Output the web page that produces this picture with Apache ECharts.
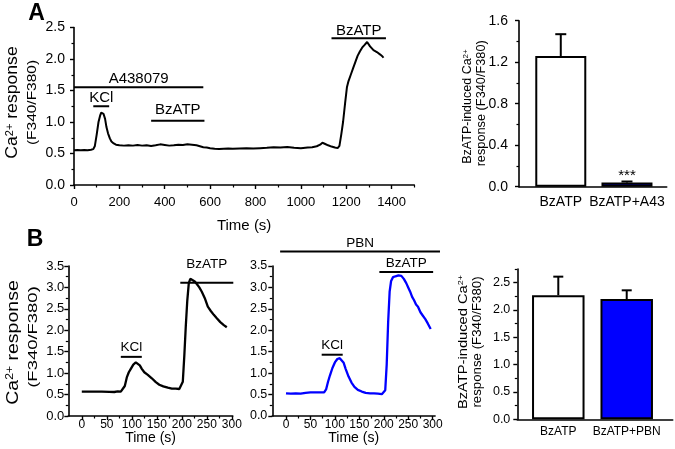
<!DOCTYPE html>
<html><head><meta charset="utf-8">
<script src="https://cdn.jsdelivr.net/npm/echarts@6/dist/echarts.min.js"></script>
<style>html,body{margin:0;padding:0;background:#fff}#c{width:675px;height:449px}</style>
</head><body><div id="c"></div>
<script>
// ================= DATA =================
// Panel A trace: time (s) and Ca2+ ratio
const traceA_t = [0,15,30,45,60,75,85,92,100,108,115,120,125,130,137,143,150,158,165,175,185,200,220,240,260,280,300,320,340,360,380,400,420,440,460,480,500,520,540,555,570,585,600,620,640,660,680,700,730,760,790,820,850,880,910,940,970,1000,1030,1050,1070,1085,1095,1105,1120,1135,1150,1162,1170,1178,1186,1195,1203,1210,1220,1230,1240,1250,1260,1270,1280,1287,1292,1298,1305,1312,1320,1328,1335,1342,1350,1356,1360,1364];
const traceA_y = [0.55,0.555,0.55,0.555,0.55,0.56,0.57,0.62,0.8,1.0,1.1,1.15,1.165,1.13,1.05,0.92,0.82,0.74,0.69,0.66,0.64,0.63,0.625,0.63,0.625,0.635,0.625,0.63,0.62,0.63,0.645,0.635,0.625,0.63,0.64,0.635,0.645,0.64,0.63,0.615,0.6,0.595,0.585,0.575,0.57,0.575,0.58,0.575,0.58,0.585,0.58,0.585,0.59,0.6,0.595,0.605,0.59,0.585,0.595,0.6,0.615,0.64,0.67,0.655,0.63,0.61,0.595,0.585,0.62,0.8,1.0,1.3,1.55,1.65,1.75,1.85,1.95,2.05,2.12,2.18,2.22,2.25,2.27,2.24,2.2,2.18,2.14,2.15,2.11,2.1,2.07,2.09,2.04,2.02];
// Panel B left trace (control)
const traceB1_t = [0,20,40,55,65,72,78,82,86,90,94,98,103,108,112,116,120,125,132,140,148,155,163,172,180,188,195,199,202,205,208,211,214,217,221,226,230,235,240,246,252,258,264,270,277,284,290];
const traceB1_y = [0.57,0.57,0.57,0.565,0.56,0.575,0.57,0.6,0.7,0.9,1.02,1.1,1.2,1.25,1.24,1.18,1.1,1.02,0.96,0.88,0.79,0.73,0.69,0.66,0.64,0.64,0.63,0.63,0.8,1.4,2.1,2.7,3.1,3.2,3.19,3.14,3.08,3.0,2.9,2.75,2.55,2.45,2.36,2.28,2.19,2.12,2.07];
// Panel B middle trace (PBN)
const traceB2_t = [0,10,20,30,40,50,60,70,78,82,86,90,95,100,105,110,114,118,122,128,134,140,147,155,163,172,180,188,196,200,203,206,209,212,215,219,224,230,236,241,246,250,254,258,262,266,270,275,280,285,290,296];
const traceB2_y = [0.53,0.52,0.53,0.52,0.54,0.55,0.55,0.55,0.55,0.62,0.8,0.95,1.12,1.25,1.33,1.35,1.33,1.24,1.1,0.92,0.78,0.68,0.61,0.57,0.54,0.53,0.53,0.52,0.51,0.52,0.6,1.2,2.2,2.9,3.15,3.24,3.26,3.28,3.27,3.2,3.1,3.0,2.9,2.78,2.7,2.6,2.55,2.42,2.34,2.26,2.16,2.03];
// Bar charts
const barCatsA = ['BzATP', 'BzATP+A43'];
const barMeanA = [1.26, 0.04];
const barErrA  = [0.21, 0.01];
const barSigA  = ['', '***'];
const barCatsB = ['BzATP', 'BzATP+PBN'];
const barMeanB = [2.27, 2.20];
const barErrB  = [0.34, 0.16];
const barSigB  = ['', ''];
// Drug application periods (s) and the response level they are drawn at
const annoA_label = ['A438079', 'KCl', 'BzATP', 'BzATP'];
const annoA_start = [0, 85, 340, 1135];
const annoA_end   = [570, 155, 575, 1375];
const annoA_level = [1.55, 1.25, 1.02, 2.33];
const annoB1_label = ['KCl', 'BzATP'];
const annoB1_start = [78, 197];
const annoB1_end   = [120, 303];
const annoB1_level = [1.38, 3.11];
const annoB2_label = ['PBN', 'KCl', 'BzATP'];
const annoB2_start = [-12, 73, 191];
const annoB2_end   = [315, 116, 301];
const annoB2_level = [3.84, 1.43, 3.36];
// Tick values
const ticksA_x = [0,200,400,600,800,1000,1200,1400];
const minorA_x = [100,300,500,700,900,1100,1300,1500];
const ticksA_y = [0,0.5,1.0,1.5,2.0,2.5];
const minorA_y = [0.25,0.75,1.25,1.75,2.25];
const ticksAb_y = [0,0.4,0.8,1.2,1.6];
const minorAb_y = [0.2,0.6,1.0,1.4];
const ticksB_x = [0,50,100,150,200,250,300];
const minorB_x = [25,75,125,175,225,275];
const ticksB_y = [0,0.5,1.0,1.5,2.0,2.5,3.0,3.5];
const minorB_y = [0.25,0.75,1.25,1.75,2.25,2.75,3.25];
const ticksBb_y = [0,0.5,1.0,1.5,2.0,2.5];
const minorBb_y = [0.25,0.75,1.25,1.75,2.25,2.75];

// ================= STYLE / LAYOUT =================
const FONT = "'Liberation Sans', Arial, Helvetica, sans-serif";
const BLUE = '#0000ff';
const fillsA = ['#ffffff', BLUE];
const fillsB = ['#ffffff', BLUE];
const annoGapA = [8, 8.5, 10.5, 7.5];
const annoGapB1 = [9.5, 18];
const annoGapB2 = [8, 9.5, 9];

const zip = (a, b) => a.map((v, i) => [v, b[i]]);
const f1 = v => v.toFixed(1);

const xAxes = [], yAxes = [];
function addAxes(list, dim, gi, min, max, majors, minors, st) {
  const pos = dim === 'x' ? 'bottom' : 'left';
  const main = {
    type: 'value', gridIndex: gi, position: pos, min: min, max: max,
    axisLine: {show: true, onZero: false, lineStyle: {color: '#000', width: 1.6}},
    axisTick: {show: st.ticks !== false, customValues: majors, length: 4, lineStyle: {color: '#000', width: 1.4}},
    axisLabel: {show: true, customValues: st.labels || majors, margin: st.margin, fontSize: st.fontSize,
      color: '#000', fontFamily: FONT, formatter: st.fmt || (v => String(v))},
    splitLine: {show: false}, splitArea: {show: false}
  };
  if (st.name) {
    main.name = st.name; main.nameLocation = 'middle'; main.nameGap = st.nameGap;
    main.nameTextStyle = {fontSize: st.nameSize, color: '#000', fontFamily: FONT};
  }
  const idx = list.length;
  list.push(main);
  if (minors) {
    list.push({
      type: 'value', gridIndex: gi, position: pos, min: min, max: max,
      axisLine: {show: false, onZero: false},
      axisTick: {show: true, customValues: minors, length: 2.5, lineStyle: {color: '#000', width: 1.2}},
      axisLabel: {show: false}, splitLine: {show: false}
    });
  }
  return idx;
}

// grids: 0 A trace, 1 A bar, 2 B left, 3 B middle, 4 B bar
const grids = [
  {left: 74, top: 27.5, width: 340.3, height: 157.5},
  {left: 519, top: 20.7, width: 147.7, height: 166},
  {left: 68.3, top: 266, width: 164.5, height: 150},
  {left: 272.3, top: 266, width: 162.8, height: 150},
  {left: 517.3, top: 269, width: 155.4, height: 150.3}
].map(g => Object.assign({containLabel: false, outerBoundsMode: 'none', show: false}, g));

const xA = addAxes(xAxes, 'x', 0, 0, 1500, ticksA_x, minorA_x, {margin: 10.5, fontSize: 13, name: 'Time (s)', nameGap: 33, nameSize: 15});
const yA = addAxes(yAxes, 'y', 0, 0, 2.5, ticksA_y, minorA_y, {margin: 9, fontSize: 14, fmt: f1});
const xAb = addAxes(xAxes, 'x', 1, -0.631, 1.6, [0, 1], null, {ticks: false, margin: 8.5, fontSize: 14, fmt: v => barCatsA[Math.round(v)]});
const yAb = addAxes(yAxes, 'y', 1, 0, 1.6, ticksAb_y, minorAb_y, {margin: 11, fontSize: 14, fmt: f1});
const xB1 = addAxes(xAxes, 'x', 2, -27, 302, ticksB_x, minorB_x, {margin: 2.5, fontSize: 12, name: 'Time (s)', nameGap: 8, nameSize: 14});
const yB1 = addAxes(yAxes, 'y', 2, 0, 3.5, ticksB_y, minorB_y, {margin: 4, fontSize: 13, fmt: f1});
const xB2 = addAxes(xAxes, 'x', 3, -28, 305, ticksB_x, minorB_x, {margin: 2.5, fontSize: 12, name: 'Time (s)', nameGap: 8, nameSize: 14});
const yB2 = addAxes(yAxes, 'y', 3, 0, 3.5, ticksB_y, minorB_y, {margin: 5, fontSize: 12.5, fmt: f1});
const xBb = addAxes(xAxes, 'x', 4, -0.599, 1.672, [0, 1], null, {ticks: false, margin: 6.5, fontSize: 12, fmt: v => barCatsB[Math.round(v)]});
const yBb = addAxes(yAxes, 'y', 4, 0, 2.75, ticksBb_y, minorBb_y, {margin: 7, fontSize: 12.5, fmt: f1});

function traceSeries(xi, yi, t, y, color, w) {
  return {type: 'line', xAxisIndex: xi, yAxisIndex: yi, data: zip(t, y), symbol: 'none', showSymbol: false,
    lineStyle: {color: color, width: w}, itemStyle: {color: color}, z: 3, silent: true};
}
function annoSeries(xi, yi, starts, ends, levels, labels, gaps, fontSize) {
  return {
    type: 'custom', xAxisIndex: xi, yAxisIndex: yi, clip: false, silent: true, z: 5,
    data: starts.map((s, i) => [s, ends[i], levels[i]]),
    renderItem: function (params, api) {
      const i = params.dataIndex;
      const p0 = api.coord([api.value(0), api.value(2)]);
      const p1 = api.coord([api.value(1), api.value(2)]);
      return {type: 'group', children: [
        {type: 'line', shape: {x1: p0[0], y1: p0[1], x2: p1[0], y2: p1[1]}, style: {stroke: '#000', lineWidth: 2}},
        {type: 'text', x: (p0[0] + p1[0]) / 2, y: p0[1] - gaps[i],
          style: {text: labels[i], fontSize: fontSize, fontFamily: FONT, fill: '#000', align: 'center', verticalAlign: 'middle'}}
      ]};
    }
  };
}
function barSeries(xi, yi, means, fills, w) {
  return {type: 'bar', xAxisIndex: xi, yAxisIndex: yi, barWidth: w, z: 3, silent: true,
    data: means.map((v, i) => ({value: [i, v], itemStyle: {color: fills[i], borderColor: '#000', borderWidth: 2}}))};
}
function errSeries(xi, yi, means, errs, sigs, capW) {
  return {
    type: 'custom', xAxisIndex: xi, yAxisIndex: yi, clip: false, silent: true, z: 6,
    data: means.map((m, i) => [i, m, m + errs[i]]),
    renderItem: function (params, api) {
      const i = params.dataIndex;
      const pt = api.coord([api.value(0), api.value(1)]);
      const ph = api.coord([api.value(0), api.value(2)]);
      const ch = [
        {type: 'line', shape: {x1: pt[0], y1: pt[1], x2: ph[0], y2: ph[1]}, style: {stroke: '#000', lineWidth: 2}},
        {type: 'line', shape: {x1: ph[0] - capW / 2, y1: ph[1], x2: ph[0] + capW / 2, y2: ph[1]}, style: {stroke: '#000', lineWidth: 2}}
      ];
      if (sigs[i]) ch.push({type: 'text', x: ph[0], y: ph[1] - 6,
        style: {text: sigs[i], fontSize: 15, fontFamily: FONT, fill: '#000', align: 'center', verticalAlign: 'middle'}});
      return {type: 'group', children: ch};
    }
  };
}

const series = [
  traceSeries(xA, yA, traceA_t, traceA_y, '#000', 2),
  annoSeries(xA, yA, annoA_start, annoA_end, annoA_level, annoA_label, annoGapA, 15),
  barSeries(xAb, yAb, barMeanA, fillsA, 51),
  errSeries(xAb, yAb, barMeanA, barErrA, barSigA, 11),
  traceSeries(xB1, yB1, traceB1_t, traceB1_y, '#000', 2.3),
  annoSeries(xB1, yB1, annoB1_start, annoB1_end, annoB1_level, annoB1_label, annoGapB1, 13.5),
  traceSeries(xB2, yB2, traceB2_t, traceB2_y, BLUE, 2.3),
  annoSeries(xB2, yB2, annoB2_start, annoB2_end, annoB2_level, annoB2_label, annoGapB2, 13.5),
  barSeries(xBb, yBb, barMeanB, fillsB, 52.5),
  errSeries(xBb, yBb, barMeanB, barErrB, barSigB, 10)
];

function caTitle(x, y, size, sx) {
  return {type: 'text', x: x, y: y, rotation: Math.PI / 2, scaleX: sx, silent: true,
    style: {text: '{a|Ca}{s|2+}{a| response}', align: 'center', verticalAlign: 'middle',
      rich: {a: {fontSize: size, fontFamily: FONT, fill: '#000'},
             s: {fontSize: Math.round(size * 0.62), fontFamily: FONT, fill: '#000', verticalAlign: 'top'}}}};
}
function plainTitle(x, y, text, size, sx) {
  return {type: 'text', x: x, y: y, rotation: Math.PI / 2, scaleX: sx, silent: true,
    style: {text: text, fontSize: size, fontFamily: FONT, fill: '#000', align: 'center', verticalAlign: 'middle'}};
}
function barTitle(x, y, size, sx) {
  return {type: 'text', x: x, y: y, rotation: Math.PI / 2, scaleX: sx, silent: true,
    style: {text: '{a|BzATP-induced Ca}{s|2+}', align: 'center', verticalAlign: 'middle',
      rich: {a: {fontSize: size, fontFamily: FONT, fill: '#000'},
             s: {fontSize: Math.round(size * 0.62), fontFamily: FONT, fill: '#000', verticalAlign: 'top'}}}};
}

const graphic = [
  {type: 'text', x: 36.5, y: 13.5, silent: true, style: {text: 'A', fontSize: 23, fontWeight: 'bold', fontFamily: FONT, fill: '#000', align: 'center', verticalAlign: 'middle'}},
  {type: 'text', x: 35, y: 240, silent: true, style: {text: 'B', fontSize: 23, fontWeight: 'bold', fontFamily: FONT, fill: '#000', align: 'center', verticalAlign: 'middle'}},
  caTitle(13, 102.5, 16, 1.1),
  plainTitle(32, 102.5, '(F340/F380)', 13, 1.19),
  barTitle(468, 106.5, 12.5, 1.0),
  plainTitle(481.7, 103.3, 'response (F340/F380)', 12.5, 1.02),
  caTitle(13.5, 342.5, 16, 1.22),
  plainTitle(33.3, 337, '(F340/F380)', 13, 1.42),
  barTitle(463.5, 342, 13, 1.13),
  plainTitle(477, 342, 'response (F340/F380)', 13, 1.02)
];

const chart = echarts.init(document.getElementById('c'), null, {renderer: 'canvas'});
chart.setOption({
  animation: false,
  backgroundColor: '#fff',
  textStyle: {fontFamily: FONT, color: '#000'},
  grid: grids,
  xAxis: xAxes,
  yAxis: yAxes,
  series: series,
  graphic: graphic
});
</script>
</body></html>
